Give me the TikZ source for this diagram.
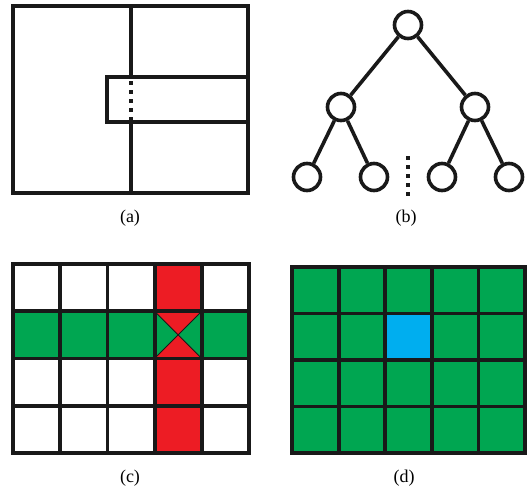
\documentclass[tikz,border=0pt]{standalone}
\usepackage{fontspec}
\setmainfont{Liberation Serif}
\definecolor{cellred}{HTML}{ED1C24}
\definecolor{cellgreen}{HTML}{00A651}
\definecolor{cellblue}{HTML}{00AEEF}
\begin{document}
\begin{tikzpicture}[
  x=1pt, y=-1pt,
  frame/.style={draw=black!90, line width=3.8pt},
  dots/.style={draw=black!90, line width=3.6pt, dash pattern=on 3.6pt off 5.4pt},
  vertex/.style={circle, draw=black!90, line width=3.6pt, fill=white, minimum size=27pt, inner sep=0pt},
  edge/.style={draw=black!90, line width=3.6pt},
  caption/.style={font=\fontsize{18}{20}\selectfont}
]
\useasboundingbox (0,0) rectangle (530,490);

% (a) subdivided block
\draw[frame] (13,6) rectangle (248,193);
\draw[frame] (107,77) rectangle (248,122);
\draw[frame] (131,6) -- (131,77);
\draw[frame] (131,122) -- (131,193);
\draw[dots] (131,81) -- (131,121);
\node[caption] (capa) at (130,218) {(a)};

% (b) tree
\node[vertex] (root) at (408,25) {};
\node[vertex] (left) at (341,107) {};
\node[vertex] (right) at (475,107) {};
\node[vertex] (leafa) at (307,177) {};
\node[vertex] (leafb) at (374,177) {};
\node[vertex] (leafc) at (442,177) {};
\node[vertex] (leafd) at (509,177) {};
\draw[edge] (root) -- (left);
\draw[edge] (root) -- (right);
\draw[edge] (left) -- (leafa);
\draw[edge] (left) -- (leafb);
\draw[edge] (right) -- (leafc);
\draw[edge] (right) -- (leafd);
\coordinate (gaptop) at (408,156);
\coordinate (gapbot) at (408,198);
\draw[dots] (gaptop) -- (gapbot);
\node[caption] (capb) at (406,218) {(b)};

% (c) cross of row and column
\begin{scope}[shift={(13,264)}, x=47.2pt, y=-47.25pt]
  \fill[cellred] (3,0) rectangle (4,4);
  \fill[cellgreen] (0,1) rectangle (5,2);
  \fill[cellred] (3,1) -- (4,1) -- (3.5,1.5) -- cycle;
  \fill[cellred] (3,2) -- (4,2) -- (3.5,1.5) -- cycle;
  \draw[black!90, line width=0.9pt] (3,1) -- (4,2) (4,1) -- (3,2);
  \foreach \i in {1,...,4} \draw[frame] (\i,0) -- (\i,4);
  \foreach \j in {1,...,3} \draw[frame] (0,\j) -- (5,\j);
  \draw[frame] (0,0) rectangle (5,4);
\end{scope}
\node[caption] (capc) at (130,478) {(c)};

% (d) neighbourhood
\begin{scope}[shift={(292,267)}, x=46.6pt, y=-46.5pt]
  \fill[cellgreen] (0,0) rectangle (5,4);
  \fill[cellblue] (2,1) rectangle (3,2);
  \foreach \i in {1,...,4} \draw[frame] (\i,0) -- (\i,4);
  \foreach \j in {1,...,3} \draw[frame] (0,\j) -- (5,\j);
  \draw[frame] (0,0) rectangle (5,4);
\end{scope}
\node[caption] (capd) at (404,478) {(d)};
\end{tikzpicture}
\end{document}
